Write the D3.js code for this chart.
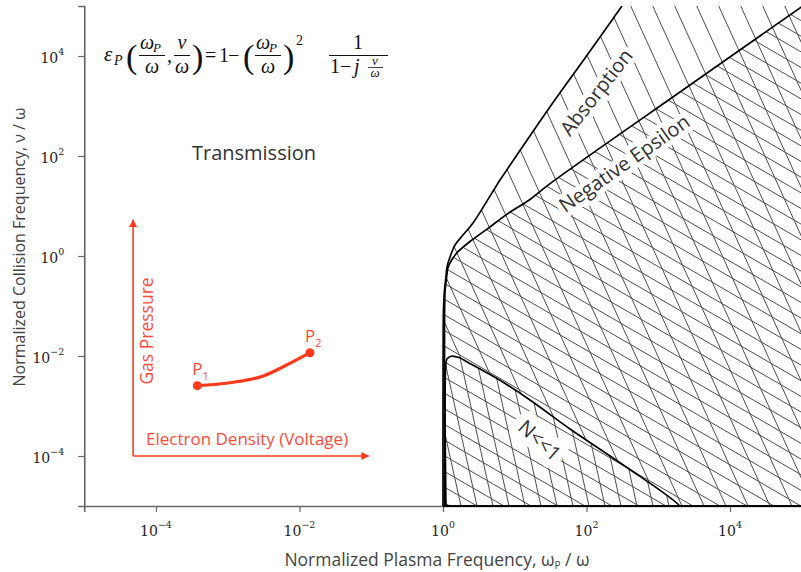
<!DOCTYPE html>
<html><head><meta charset="utf-8">
<script src="https://cdn.jsdelivr.net/npm/d3@7"></script>
<style>
body{margin:0;background:#fff;}
svg{display:block;}
.lbl{font-family:"Open Sans",sans-serif;font-weight:400;}
.math{font-family:"Liberation Serif","DejaVu Serif",serif;}
.tk{font-family:"DejaVu Serif",serif;}
</style></head>
<body><svg id="c" width="801" height="572"></svg>
<script>
// ---------- data ----------
const xTickValues = [1e-4, 1e-2, 1, 1e2, 1e4];
const xTickExponents = ["\u22124", "\u22122", "0", "2", "4"];
const yTickValues = [1e-4, 1e-2, 1, 1e2, 1e4];
const yTickExponents = ["\u22124", "\u22122", "0", "2", "4"];

// [omegaP/omega, nu/omega]
const absorptionBoundary = [[312,1e5],[100,1e4],[31.6,1000],[10.5,100],[6.23,33],[4.77,17.9],[2.62,4.57],[1.9,2.63],[1.47,1.66],[1.28,1.05],[1.137,0.6],[1.10,0.38],[1.05,0.21],[1.016,0.083],[1.005,0.02],[1.0,1e-3],[1.0,1e-5]];
const negEpsilonBoundary = [[1e5,9.7e4],[2772,2630],[31,28],[16.3,13.5],[7.73,6.8],[4.06,3.4],[2.38,1.95],[1.62,1.22],[1.32,0.83],[1.17,0.575],[1.125,0.385],[1.07,0.2],[1.055,0.1],[1.05,0.03],[1.05,1e-3],[1.05,1e-5]];
const nBoundary = [[1.10,1e-5],[1.10,0.0072],[1.14,0.0088],[1.3,0.0099],[1.7,0.0092],[2.14,0.0077],[5.6,0.00358],[16.3,0.00132],[58.9,3.47e-4],[326,6.6e-5],[2000,1e-5],[2400,6.5e-6]];

const operatingPath = [[3.77e-4,2.55e-3],[1.07e-3,2.92e-3],[3.13e-3,3.98e-3],[6.63e-3,6.6e-3],[0.014,0.01164]];
const pointLabels = ["1","2"];
const arrowOrigin = [4.8e-5, 1.0e-4];
const arrowTopY = 5.3;
const arrowRightX = 0.092;

// ---------- setup ----------
const svg = d3.select("#c");
const X0 = 84.25, X1 = 801.75, Y0 = 506, Y1 = 6;
const x = d3.scaleLog().domain([1e-5,1e5]).range([X0,X1]);
const y = d3.scaleLog().domain([1e-5,1e5]).range([Y0,Y1]);
const line = d3.line().x(d=>x(d[0])).y(d=>y(d[1])).curve(d3.curveCatmullRom.alpha(0.5));

const defs = svg.append("defs");
defs.append("clipPath").attr("id","plot").append("rect")
  .attr("x",X0).attr("y",Y1).attr("width",X1-X0).attr("height",Y0-Y1);

function regionPath(curve, closing){
  const p = line(curve);
  const extra = closing.map(d=>"L"+d[0]+","+d[1]).join("");
  return p + extra + "Z";
}
const absPath = regionPath(absorptionBoundary.slice().reverse(), [[x(1e5)+50,Y1-50],[x(1e5)+50,Y0+50],[x(1.0),Y0+50]]);
const nPath = regionPath(nBoundary, [[x(2400)+20,Y0+50],[x(1.10),Y0+50]]);
const negPath = regionPath(negEpsilonBoundary, [[x(1.05),Y0+50],[x(1e5)+50,Y0+50],[x(1e5)+50,Y1-50]]);

defs.append("clipPath").attr("id","absClip").append("path").attr("d",absPath+nPath).attr("clip-rule","evenodd");
defs.append("clipPath").attr("id","negClip").append("path").attr("d",negPath);
defs.append("clipPath").attr("id","nClip").append("path").attr("d",nPath);

function hatch(clipId, slope, hSpacing, phase){
  const g = svg.append("g").attr("clip-path","url(#plot)").append("g").attr("clip-path","url(#"+clipId+")");
  const H = Y0 - Y1;
  const lines = [];
  for(let a = 440 - H/slope - hSpacing + phase; a < X1 + hSpacing; a += hSpacing) lines.push(a);
  g.selectAll("line").data(lines).join("line")
    .attr("x1",d=>d).attr("y1",Y1).attr("x2",d=>d+H/slope).attr("y2",Y0)
    .attr("stroke","#4d4d4d").attr("stroke-width",1);
}
hatch("absClip", 2.2, 22, 0);
hatch("negClip", 0.58, 27, 10);
hatch("nClip", 4.5, 16, 5);

// ---------- axes ----------
const axisColor = "#666";
const xAxis = d3.axisBottom(x).tickValues(xTickValues).tickSizeOuter(0).tickSize(6).tickFormat(()=>"");
const yAxis = d3.axisLeft(y).tickValues(yTickValues).tickSizeOuter(0).tickSize(6).tickFormat(()=>"");
const gx = svg.append("g").attr("transform","translate(0,"+Y0+")").call(xAxis);
const gy = svg.append("g").attr("transform","translate("+X0+",0)").call(yAxis);
[gx,gy].forEach(g=>{
  g.select(".domain").attr("stroke",axisColor).attr("stroke-width",1.6);
  g.selectAll(".tick line").attr("stroke",axisColor).attr("stroke-width",1.2);
});
svg.append("g").selectAll("text").data(xTickValues).join("text")
  .attr("class","tk").attr("x",d=>x(d)).attr("y",Y0+30).attr("text-anchor","middle")
  .attr("font-size",14).attr("fill","#222")
  .each(function(d,i){
    const t = d3.select(this);
    t.append("tspan").text("10");
    t.append("tspan").attr("dy",-8).attr("font-size",9.5).text(xTickExponents[i]);
  });
svg.append("g").selectAll("text").data(yTickValues).join("text")
  .attr("class","tk").attr("x",X0-20).attr("y",d=>y(d)+7).attr("text-anchor","end")
  .attr("font-size",14).attr("fill","#222")
  .each(function(d,i){
    const t = d3.select(this);
    t.append("tspan").text("10");
    t.append("tspan").attr("dy",-8).attr("font-size",9.5).text(yTickExponents[i]);
  });

svg.append("line").attr("x1",x(1.0)).attr("x2",X1).attr("y1",Y0).attr("y2",Y0)
  .attr("stroke","#000").attr("stroke-width",1.8);

// ---------- labels with halo ----------
function halo(sel, w){ return sel.attr("stroke","#fff").attr("stroke-width",w).attr("stroke-linejoin","round").attr("paint-order","stroke"); }
halo(svg.append("text").attr("class","lbl").attr("font-size",20).attr("font-weight",300).attr("fill","#333")
  .attr("text-anchor","middle").attr("dominant-baseline","central")
  .attr("transform","translate(596,92) rotate(-52)").text("Absorption"), 10);
halo(svg.append("text").attr("class","lbl").attr("font-size",20).attr("font-weight",300).attr("fill","#333")
  .attr("text-anchor","middle").attr("dominant-baseline","central")
  .attr("transform","translate(624,163) rotate(-35)").text("Negative Epsilon"), 10);
halo(svg.append("text").attr("class","lbl").attr("font-size",20).attr("font-weight",300).attr("fill","#333")
  .attr("text-anchor","middle").attr("dominant-baseline","central")
  .attr("transform","translate(540,440) rotate(42)").text("N<<1"), 18);

// ---------- boundary curves ----------
const cg = svg.append("g").attr("clip-path","url(#plot)");
[absorptionBoundary, negEpsilonBoundary, nBoundary].forEach(c=>{
  cg.append("path").attr("d",line(c)).attr("fill","none").attr("stroke","#000").attr("stroke-width",1.7);
});

// ---------- transmission ----------
svg.append("text").attr("class","lbl").attr("font-size",20).attr("font-weight",300).attr("fill","#333")
  .attr("x",254).attr("y",160).attr("text-anchor","middle").text("Transmission");

// ---------- red annotation ----------
const red = "#ff3a1c", redText = "#ff4a3a";
defs.append("marker").attr("id","ah").attr("viewBox","0 0 10 10").attr("refX",9).attr("refY",5)
  .attr("markerWidth",11).attr("markerHeight",8).attr("markerUnits","userSpaceOnUse").attr("orient","auto")
  .append("path").attr("d","M0,0L10,5L0,10Z").attr("fill",red);
const ax0 = x(arrowOrigin[0]), ay0 = y(arrowOrigin[1]);
svg.append("line").attr("x1",ax0).attr("y1",ay0).attr("x2",ax0).attr("y2",y(arrowTopY))
  .attr("stroke",red).attr("stroke-width",1.6).attr("marker-end","url(#ah)");
svg.append("line").attr("x1",ax0).attr("y1",ay0).attr("x2",x(arrowRightX)).attr("y2",ay0)
  .attr("stroke",red).attr("stroke-width",1.6).attr("marker-end","url(#ah)");
svg.append("text").attr("class","lbl").attr("font-size",17).attr("font-weight",300).attr("fill",redText)
  .attr("x",146).attr("y",445).text("Electron Density (Voltage)");
svg.append("text").attr("class","lbl").attr("font-size",17.5).attr("font-weight",300).attr("fill",redText)
  .attr("text-anchor","middle").attr("transform","translate(153,331) rotate(-90)").text("Gas Pressure");
svg.append("path").attr("d",d3.line().x(d=>x(d[0])).y(d=>y(d[1])).curve(d3.curveMonotoneX)(operatingPath))
  .attr("fill","none").attr("stroke",red).attr("stroke-width",3.2);
const ends = [operatingPath[0], operatingPath[operatingPath.length-1]];
svg.selectAll("circle.pt").data(ends).join("circle").attr("class","pt")
  .attr("cx",d=>x(d[0])).attr("cy",d=>y(d[1])).attr("r",4.5).attr("fill",red);
svg.selectAll("text.pl").data(ends).join("text").attr("class","lbl pl")
  .attr("x",d=>x(d[0])-5).attr("y",d=>y(d[1])-11).attr("font-size",17).attr("font-weight",300).attr("fill",redText)
  .each(function(d,i){
    const t=d3.select(this);
    t.append("tspan").text("P");
    t.append("tspan").attr("dy",5).attr("font-size",11).text(pointLabels[i]);
  });

// ---------- axis titles ----------
const xt = svg.append("text").attr("class","lbl").attr("font-size",17.5).attr("font-weight",300).attr("fill","#444")
  .attr("x",437).attr("y",566).attr("text-anchor","middle");
xt.append("tspan").text("Normalized Plasma Frequency, \u03c9");
xt.append("tspan").attr("font-size",10).attr("dy",3).text("P");
xt.append("tspan").attr("dy",-3).text(" / \u03c9");
svg.append("text").attr("class","lbl").attr("font-size",16).attr("font-weight",300).attr("fill","#444")
  .attr("text-anchor","middle").attr("transform","translate(25,247) rotate(-90)")
  .text("Normalized Collision Frequency, \u03bd / \u03c9");

// ---------- formula ----------
const fg = svg.append("g").attr("class","math").attr("fill","#111");
function t(xp, yp, s, size, italic, anchor){
  return fg.append("text").attr("x",xp).attr("y",yp).attr("font-size",size)
    .attr("font-style",italic?"italic":"normal").attr("text-anchor",anchor||"start").text(s);
}
function bar(xa, xb, yb, w){ fg.append("line").attr("x1",xa).attr("x2",xb).attr("y1",yb).attr("y2",yb).attr("stroke","#111").attr("stroke-width",w||1); }
function omegaP(xp, yp){ t(xp,yp,"\u03c9",20,true); t(xp+13,yp+3,"P",13,true); }
t(104,61,"\u03b5",21,true); t(114,65,"P",14,true);
t(126,68,"(",34,false);
omegaP(140,49); bar(139,165,55.5); t(152,73,"\u03c9",20,true,"middle");
t(167,62,",",20,false);
t(182,49,"\u03bd",20,true,"middle"); bar(174,190,55.5); t(182,73,"\u03c9",20,true,"middle");
t(192,68,")",34,false);
t(205,62,"=",20,false);
t(219,62,"1",20,false);
t(228,62,"\u2212",20,false);
t(243,68,"(",34,false);
omegaP(256,49); bar(255,281,55.5); t(268,73,"\u03c9",20,true,"middle");
t(283,68,")",34,false);
t(296,45,"2",14,false);
t(358,49,"1",20,false,"middle"); bar(329,388,55.5);
t(330,73,"1",20,false); t(340,73,"\u2212",20,false); t(354,73,"j",20,true);
t(375,65,"\u03bd",13,true,"middle"); bar(368,383,67.5,0.8); t(375,77,"\u03c9",13,true,"middle");
</script></body></html>
